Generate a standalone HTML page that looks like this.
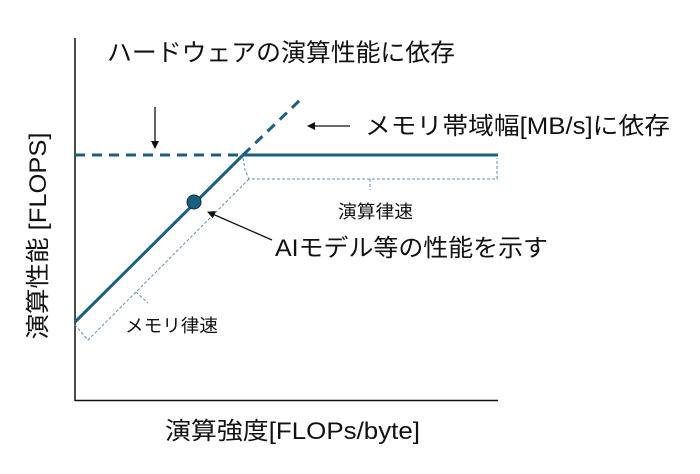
<!DOCTYPE html>
<html><head><meta charset="utf-8"><style>
html,body{margin:0;padding:0;background:#fff;}
svg text{font-family:"Liberation Sans","Noto Sans CJK JP",sans-serif;fill:#111;}
</style></head><body>
<svg width="700" height="469" viewBox="0 0 700 469" xmlns="http://www.w3.org/2000/svg">
<defs><marker id="ah" markerWidth="8" markerHeight="8" refX="7" refY="4" orient="auto" markerUnits="userSpaceOnUse"><path d="M0,0 L8,4 L0,8 Z" fill="#111"/></marker></defs>
<line x1="75" y1="38" x2="75" y2="401" stroke="#111" stroke-width="1.5"/>
<line x1="75" y1="400.5" x2="498" y2="400.5" stroke="#111" stroke-width="1.5"/>
<line x1="75" y1="155" x2="243" y2="155" stroke="#1a5f80" stroke-width="3" stroke-dasharray="10,7"/>
<line x1="243" y1="155" x2="498" y2="155" stroke="#1a5f80" stroke-width="3"/>
<line x1="75" y1="322" x2="243" y2="155" stroke="#1a5f80" stroke-width="3"/>
<line x1="243" y1="155" x2="300" y2="100" stroke="#1a5f80" stroke-width="3" stroke-dasharray="10,7"/>
<path d="M243,158 L245,170 L249,179 L497,179 L497,158 M370,179 L370,190" fill="none" stroke="#5a90b8" stroke-width="1" stroke-dasharray="3,2"/>
<path d="M249,179 L88,340 L74,324 M136,292 L148,303" fill="none" stroke="#5a90b8" stroke-width="1" stroke-dasharray="3,2"/>
<circle cx="194" cy="202" r="7" fill="#1a5f80" stroke="#0a2a3a" stroke-width="1"/>
<line x1="155" y1="107" x2="155" y2="148" stroke="#111" stroke-width="1.3" marker-end="url(#ah)"/>
<line x1="350" y1="126" x2="308" y2="126" stroke="#111" stroke-width="1.3" marker-end="url(#ah)"/>
<line x1="272" y1="240" x2="208" y2="212" stroke="#111" stroke-width="1.3" marker-end="url(#ah)"/>
<text x="107" y="61" font-size="24.5" textLength="348" lengthAdjust="spacingAndGlyphs">ハードウェアの演算性能に依存</text>
<text x="365" y="134" font-size="24" textLength="305" lengthAdjust="spacingAndGlyphs">メモリ帯域幅[MB/s]に依存</text>
<text x="275" y="256" font-size="24" textLength="273" lengthAdjust="spacingAndGlyphs">AIモデル等の性能を示す</text>
<text x="338" y="218" font-size="18" textLength="75" lengthAdjust="spacingAndGlyphs">演算律速</text>
<text x="125" y="332" font-size="18" textLength="93" lengthAdjust="spacingAndGlyphs">メモリ律速</text>
<text x="165" y="439" font-size="24" textLength="255" lengthAdjust="spacingAndGlyphs">演算強度[FLOPs/byte]</text>
<text transform="translate(46,236) rotate(-90)" text-anchor="middle" font-size="24" textLength="207" lengthAdjust="spacingAndGlyphs">演算性能 [FLOPS]</text>
</svg>
</body></html>
